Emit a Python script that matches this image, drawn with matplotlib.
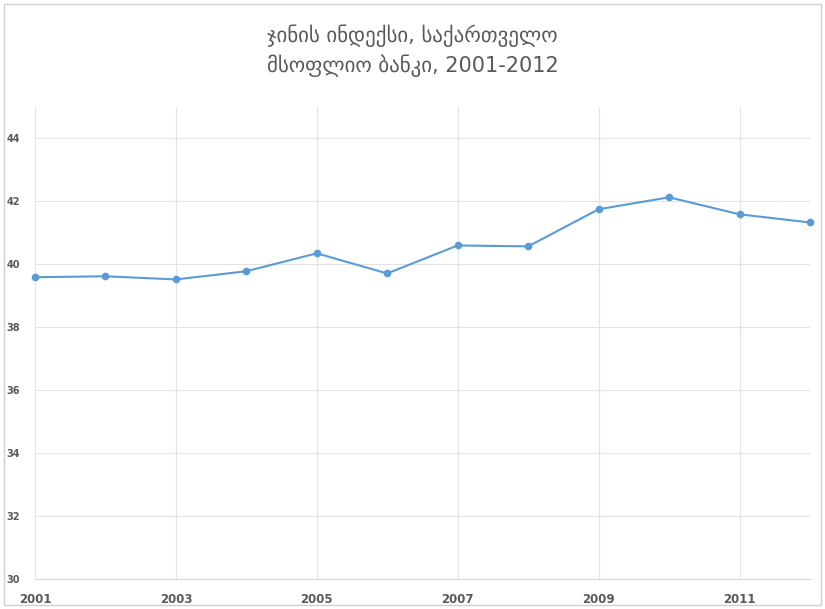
import matplotlib
matplotlib.use('Agg')
import matplotlib.pyplot as plt
from matplotlib.patches import Rectangle

years = [2001, 2002, 2003, 2004, 2005, 2006, 2007, 2008, 2009, 2010, 2011, 2012]
gini = [39.59, 39.62, 39.52, 39.78, 40.35, 39.71, 40.60, 40.57, 41.75, 42.13, 41.59, 41.33]

title = 'ჯინის ინდექსი, საქართველო\nმსოფლიო ბანკი, 2001-2012'
line_color = '#5B9BD5'
text_color = '#595959'
grid_color = '#e3e3e3'

plt.rcParams['font.family'] = ['DejaVu Sans']

fig = plt.figure(figsize=(8.25, 6.09), dpi=100)
fig.patches.append(Rectangle((0.005, 0.007), 0.99, 0.986, transform=fig.transFigure,
                             fill=False, edgecolor='#d0d0d0', linewidth=1))

ax = fig.add_axes([0.0424, 0.0493, 0.9394, 0.775])
ax.plot(years, gini, color=line_color, linewidth=1.5, marker='o', markersize=4.5,
        clip_on=False, zorder=3)

ax.set_xlim(2001, 2012)
ax.set_ylim(30, 45)
ax.set_xticks(range(2001, 2012, 2))
ax.set_yticks(range(30, 45, 2))

ax.grid(True, color=grid_color, linewidth=0.8)
ax.set_axisbelow(True)
for side in ['top', 'right', 'left']:
    ax.spines[side].set_visible(False)
ax.spines['bottom'].set_color('#d9d9d9')

ax.tick_params(axis='both', length=0, colors=text_color)
ax.tick_params(axis='y', labelsize=7, pad=11)
ax.tick_params(axis='x', labelsize=8.5, pad=10)
for lbl in ax.get_xticklabels() + ax.get_yticklabels():
    lbl.set_fontweight('bold')

fig.text(0.5, 0.917, title, ha='center', va='center', fontsize=15,
         color=text_color, linespacing=1.4)

fig.savefig('out.png', dpi=100)
